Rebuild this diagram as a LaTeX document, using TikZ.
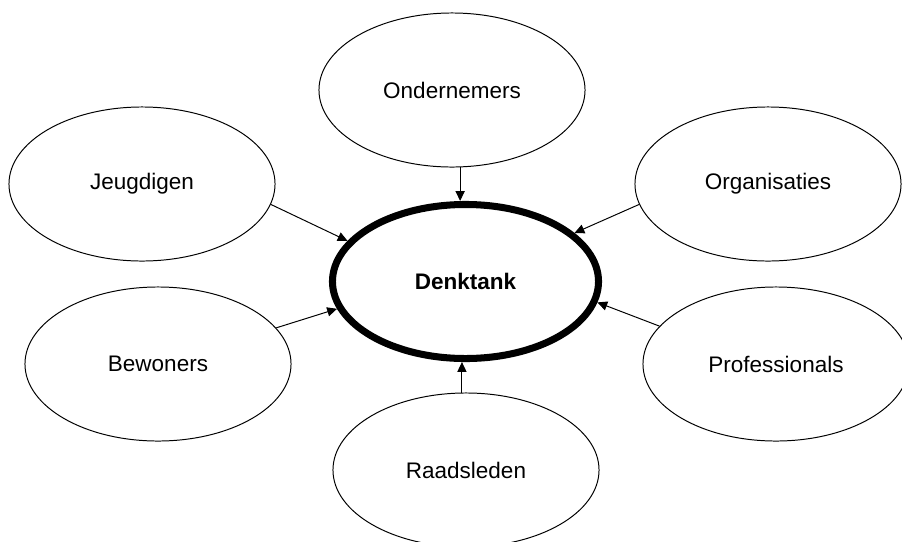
\documentclass[tikz,border=0pt]{standalone}
\usepackage{fontspec}
\setmainfont{Liberation Sans}
\usetikzlibrary{shapes.geometric}
\usetikzlibrary{arrows.meta}
\tikzset{bubble/.style = {draw, ellipse, line width=0.7pt, inner sep=0,
                          minimum width=6.65cm, minimum height=3.85cm,
                          font=\fontsize{16}{19}\selectfont}}
\tikzset{hub/.style = {bubble, line width=5pt,
                       font=\fontsize{16}{19}\selectfont\bfseries}}
\tikzset{feed/.style = {line width=0.7pt, -{Triangle[length=7pt, width=6.5pt]}}}

\begin{document}
\begin{tikzpicture}[x=0.025cm, y=-0.025cm]
    \useasboundingbox (0, 0) rectangle (902, 541);

    \node [hub] (denk) at (465.5, 281.5) {Denktank};

    \node [bubble] (onder) at (452, 90) {Ondernemers};
    \node [bubble] (jeugd) at (142, 184) {Jeugdigen};
    \node [bubble] (organ) at (768, 184) {Organisaties};
    \node [bubble] (bewon) at (158, 364) {Bewoners};
    \node [bubble] (prof) at (776, 364) {Professionals};
    \node [bubble] (raad) at (466, 470) {Raadsleden};

    \draw [feed] (onder.-84) -- (denk.north -| onder.-84);
    \draw [feed] (jeugd.-9) -- (denk.161);
    \draw [feed] (organ.189) -- (denk.24);
    \draw [feed] (bewon.17) -- (denk.192);
    \draw [feed] (prof.162) -- (denk.-9);
    \draw [feed] (raad.93) -- (denk.south -| raad.93);
  \end{tikzpicture}
\end{document}
